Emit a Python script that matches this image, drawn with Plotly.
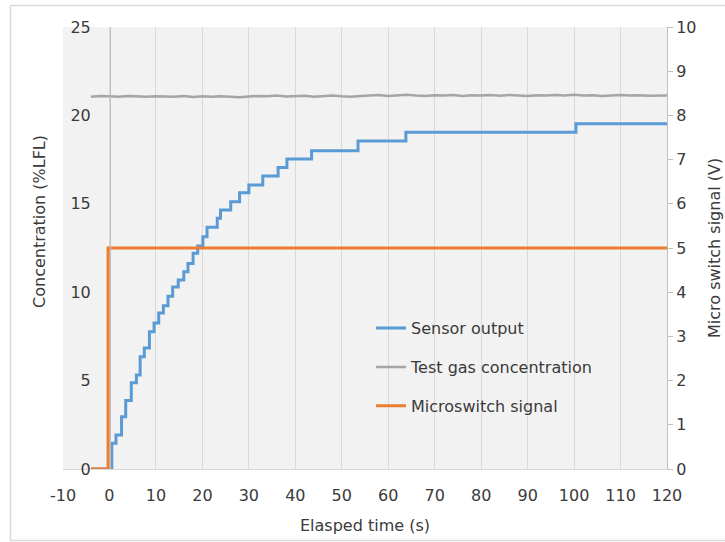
import plotly.graph_objects as go

# ---- data ----
sensor_t = [-4, 0.5, 1.4, 2.6, 3.5, 4.7, 5.8, 6.6, 7.5, 8.6, 9.6, 10.6, 11.6, 12.6, 13.6, 14.8,
            16.0, 16.9, 18.0, 19.0, 20.1, 21.0, 23.2, 23.9, 26.1, 28.0, 30.0, 33.0, 36.3, 38.2,
            43.5, 53.5, 63.8, 100.4, 120]
sensor_v = [0, 1.45, 1.92, 2.96, 3.87, 4.88, 5.32, 6.35, 6.84, 7.77, 8.26, 8.83, 9.24, 9.77, 10.29, 10.69,
            11.16, 11.63, 12.2, 12.61, 13.14, 13.67, 14.18, 14.65, 15.12, 15.63, 16.06, 16.57, 17.06, 17.53,
            18.0, 18.55, 19.04, 19.53, 19.53]

gas_t = list(range(-4, 121, 2))
gas_v = [21.05, 21.10, 21.08, 21.06, 21.10, 21.07, 21.05, 21.09, 21.08, 21.06, 21.10, 21.04,
         21.08, 21.06, 21.09, 21.05, 21.03, 21.07, 21.10, 21.08, 21.12, 21.07, 21.09, 21.11,
         21.06, 21.10, 21.13, 21.08, 21.05, 21.10, 21.12, 21.15, 21.10, 21.13, 21.17, 21.12,
         21.10, 21.14, 21.12, 21.16, 21.10, 21.14, 21.12, 21.15, 21.11, 21.16, 21.13, 21.10,
         21.14, 21.12, 21.15, 21.13, 21.17, 21.12, 21.14, 21.10, 21.13, 21.15, 21.12, 21.14,
         21.11, 21.13, 21.12]

switch_t = [-4, -0.3, -0.3, 120]
switch_v = [0, 0, 5, 5]

x_ticks = list(range(-10, 121, 10))
x_ticktext = [str(v) for v in x_ticks]  # plain hyphen minus as in the reference
names = ["Sensor output", "Test gas concentration", "Microswitch signal"]
colors = ["#5B9BD5", "#A5A5A5", "#ED7D31"]

FONT = "DejaVu Sans"
TXT = "#3A3A3A"

fig = go.Figure()
fig.add_trace(go.Scatter(x=sensor_t, y=sensor_v, mode="lines", name=names[0],
                         line=dict(color=colors[0], width=3, shape="hv"), legendgroup="a"))
fig.add_trace(go.Scatter(x=gas_t, y=gas_v, mode="lines", name=names[1],
                         line=dict(color=colors[1], width=2.5), legendgroup="b"))
fig.add_trace(go.Scatter(x=switch_t, y=switch_v, mode="lines", name=names[2], yaxis="y2",
                         line=dict(color=colors[2], width=3), legendgroup="c"))

fig.update_layout(
    width=725, height=542,
    margin=dict(l=63, r=58, t=27, b=73),
    paper_bgcolor="white", plot_bgcolor="#F2F2F2",
    font=dict(family=FONT, size=16, color=TXT),
    showlegend=True,
    legend=dict(x=0.51, y=0.357, xanchor="left", yanchor="top", bgcolor="rgba(0,0,0,0)",
                font=dict(family=FONT, size=16, color=TXT), traceorder="grouped",
                tracegroupgap=15),
    xaxis=dict(range=[-10, 120], tickvals=x_ticks, ticktext=x_ticktext, showgrid=True,
               gridcolor="#D9D9D9", gridwidth=1,
               zeroline=False, showline=True, linecolor="#D9D9D9", linewidth=1, ticks="",
               ticklabelstandoff=12, tickfont=dict(size=16, color=TXT)),
    yaxis=dict(range=[0, 25], dtick=5, showgrid=False, zeroline=False, anchor="free",
               position=47 / 604, showline=True, linecolor="#BFBFBF", linewidth=1, ticks="",
               ticklabelstandoff=16, tickfont=dict(size=16, color=TXT)),
    yaxis2=dict(range=[0, 10], dtick=1, overlaying="y", side="right", showgrid=False, zeroline=False,
                showline=True, linecolor="#BFBFBF", linewidth=1, ticks="outside", ticklen=5,
                tickcolor="#BFBFBF", tickfont=dict(size=16, color=TXT)),
    shapes=[dict(type="rect", xref="paper", yref="paper", x0=-0.0869, x1=1.2, y0=-0.1618, y1=1.0486,
                 line=dict(color="#D9D9D9", width=1.5), layer="below")],
    annotations=[
        dict(text="Elasped time (s)", xref="paper", yref="paper", x=0.5, y=-0.127,
             showarrow=False, xanchor="center", yanchor="middle", font=dict(size=16, color=TXT)),
        dict(text="Concentration (%LFL)", xref="paper", yref="paper", x=-0.038, y=0.559,
             showarrow=False, textangle=-90, xanchor="center", yanchor="middle", font=dict(size=16, color=TXT)),
        dict(text="Micro switch signal (V)", xref="paper", yref="paper", x=(714 - 63) / 604, y=0.5,
             showarrow=False, textangle=-90, xanchor="center", yanchor="middle", font=dict(size=16, color=TXT)),
    ],
)

fig.write_html("out.html")
